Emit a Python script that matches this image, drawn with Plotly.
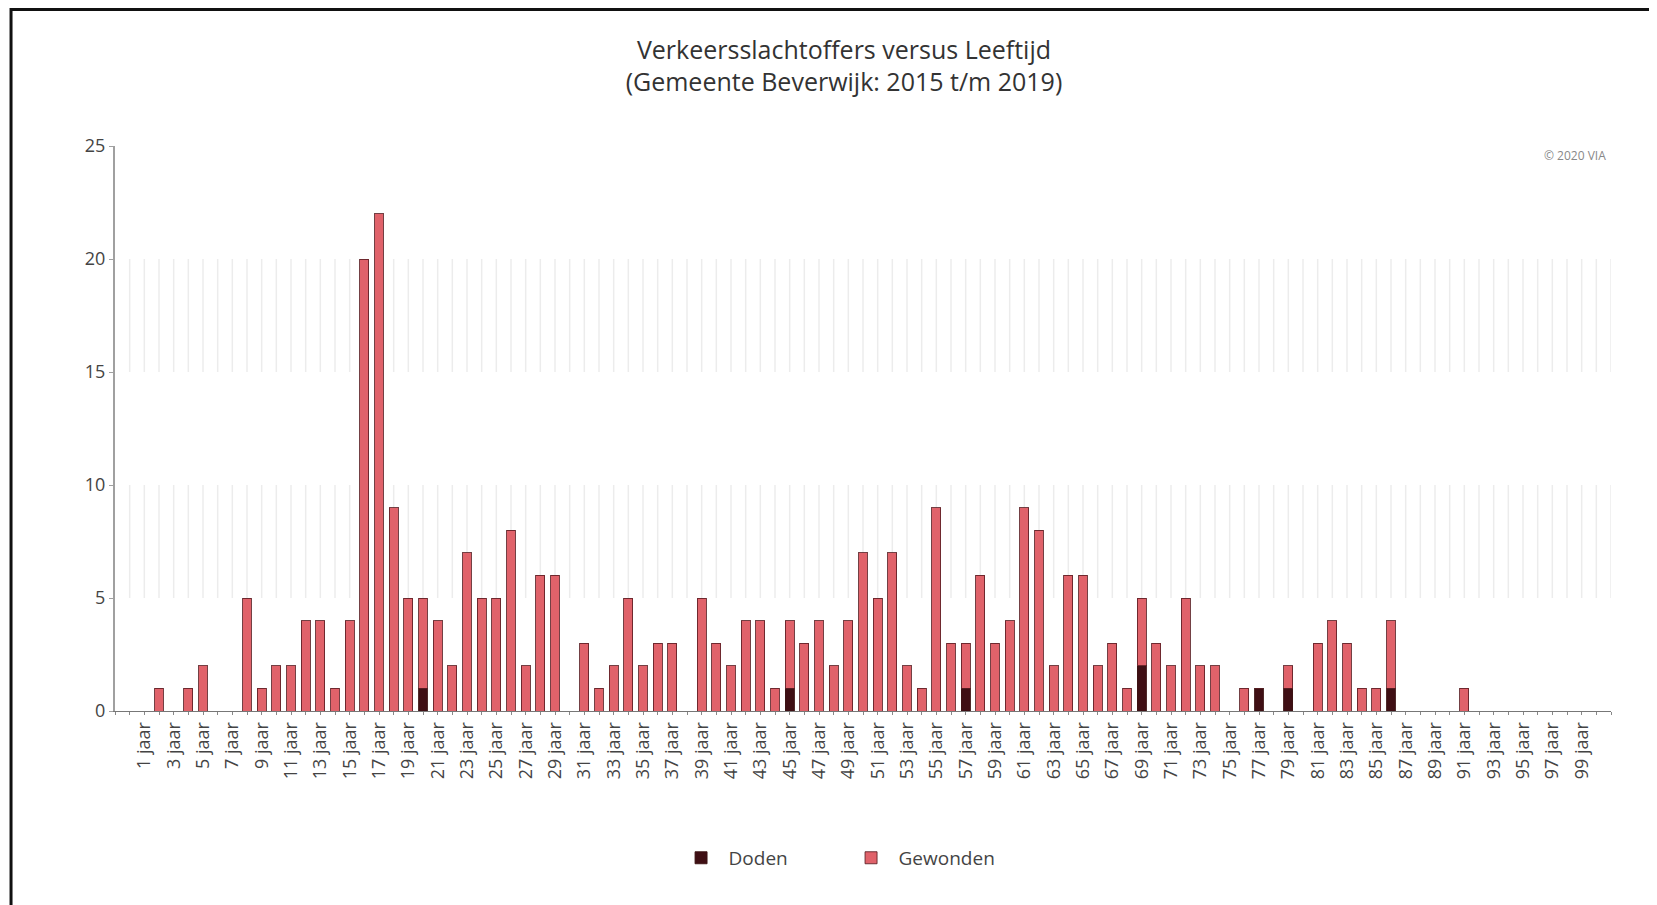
import plotly.graph_objects as go

# ---- data ----
ages = list(range(1, 100))
totaal = [0, 1, 0, 1, 2, 0, 0, 5, 1, 2,
          2, 4, 4, 1, 4, 20, 22, 9, 5, 5,
          4, 2, 7, 5, 5, 8, 2, 6, 6, 0,
          3, 1, 2, 5, 2, 3, 3, 0, 5, 3,
          2, 4, 4, 1, 4, 3, 4, 2, 4, 7,
          5, 7, 2, 1, 9, 3, 3, 6, 3, 4,
          9, 8, 2, 6, 6, 2, 3, 1, 5, 3,
          2, 5, 2, 2, 0, 1, 1, 0, 2, 0,
          3, 4, 3, 1, 1, 4, 0, 0, 0, 0,
          1, 0, 0, 0, 0, 0, 0, 0, 0]
doden_per_leeftijd = {20: 1, 45: 1, 57: 1, 69: 2, 77: 1, 79: 1, 86: 1}
doden = [doden_per_leeftijd.get(a, 0) for a in ages]
gewonden = [t - d for t, d in zip(totaal, doden)]
tick_ages = [a for a in ages if a % 2 == 1]
tick_labels = [f"{a} jaar" for a in tick_ages]
y_ticks = [0, 5, 10, 15, 20, 25]
grid_bands = [(5, 10), (15, 20)]
grid_positions = list(range(0, 102))

FONT = "Open Sans"
COL_DODEN = "#3f0f14"
COL_GEWONDEN = "#e0626a"

fig = go.Figure()
fig.add_trace(go.Bar(
    x=ages, y=doden, name="Doden", width=0.6,
    marker=dict(color=COL_DODEN, line=dict(color="rgba(60,20,20,0.9)", width=1)),
))
fig.add_trace(go.Bar(
    x=ages, y=gewonden, name="Gewonden", width=0.6,
    marker=dict(color=COL_GEWONDEN, line=dict(color="rgba(90,30,35,0.85)", width=1)),
))

shapes = []
# vertical light grid lines in alternating bands
for (y0, y1) in grid_bands:
    for gx in grid_positions:
        shapes.append(dict(type="line", xref="x", yref="y", x0=gx, x1=gx, y0=y0, y1=y1,
                           line=dict(color="#ececec", width=1.5), layer="below"))
# outer frame of the screenshot
shapes.append(dict(type="rect", xref="paper", yref="paper",
                   x0=-0.0695, x1=1.05, y0=-0.45, y1=1.2416,
                   line=dict(color="#111111", width=3), fillcolor="rgba(0,0,0,0)"))

fig.update_layout(
    width=1657, height=905,
    margin=dict(l=107, r=54, t=138, b=202),
    paper_bgcolor="white", plot_bgcolor="white",
    barmode="stack",
    font=dict(family=FONT, color="#444444"),
    title=dict(
        text="Verkeersslachtoffers versus Leeftijd<br>(Gemeente Beverwijk: 2015 t/m 2019)",
        x=0.5045, xref="container", xanchor="center",
        y=0.944, yref="container", yanchor="top",
        font=dict(family=FONT, size=25, color="#333333"),
    ),
    showlegend=True,
    legend=dict(
        orientation="h", x=0.487, xanchor="center", y=-0.26, yanchor="middle",
        font=dict(family=FONT, size=19, color="#444444"),
        traceorder="normal", itemwidth=45, entrywidth=110, entrywidthmode="pixels",
    ),
    xaxis=dict(
        range=[-1, 101],
        tickmode="array", tickvals=tick_ages, ticktext=tick_labels,
        tickangle=-90,
        tickfont=dict(family=FONT, size=18, color="#444444"),
        showgrid=False, zeroline=False,
        showline=True, linecolor="#777777", linewidth=1,
        ticks="outside", ticklen=3, tickcolor="#888888",
        minor=dict(dtick=1, tick0=0, ticks="outside", ticklen=3, tickcolor="#888888", showgrid=False),
        fixedrange=True,
    ),
    yaxis=dict(
        range=[0, 25],
        tickvals=y_ticks,
        tickfont=dict(family=FONT, size=18, color="#444444"),
        showgrid=False, zeroline=False,
        showline=True, linecolor="#a0a0a0", linewidth=2,
        ticks="outside", ticklen=4, tickcolor="#a0a0a0",
        fixedrange=True,
    ),
    shapes=shapes,
    annotations=[dict(
        text="© 2020 VIA", xref="paper", yref="paper", x=0.998, y=0.984,
        xanchor="right", yanchor="middle", showarrow=False,
        font=dict(family=FONT, size=12, color="#888888"),
    )],
)

fig.write_html("out.html")
